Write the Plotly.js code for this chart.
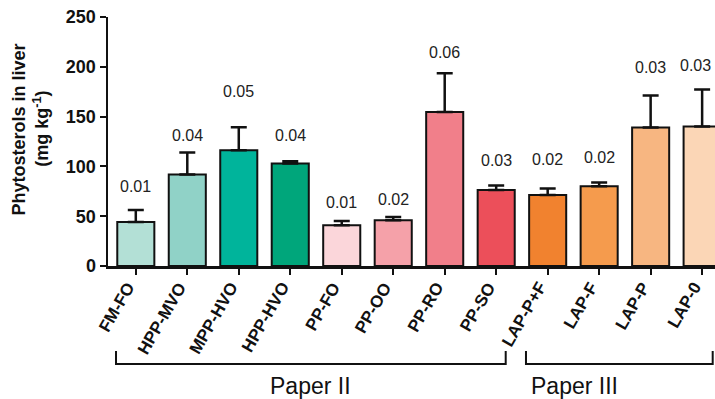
<!DOCTYPE html>
<html><head><meta charset="utf-8">
<script src="https://cdn.plot.ly/plotly-3.0.1.min.js"></script>
<style>html,body{margin:0;padding:0;background:#fff}#chart{width:715px;height:399px}</style>
</head><body><div id="chart"></div>
<script>
const categories = ["FM-FO","HPP-MVO","MPP-HVO","HPP-HVO","PP-FO","PP-OO","PP-RO","PP-SO","LAP-P+F","LAP-F","LAP-P","LAP-0"];
const means = [44.2, 91.9, 116.3, 102.9, 40.9, 45.9, 154.5, 76.4, 71.4, 80.1, 139.1, 140.1];
const sem = [12, 22, 23, 2.3, 4.3, 3.3, 39, 4.4, 6.4, 3.7, 32, 37];
const pValues = ["0.01","0.04","0.05","0.04","0.01","0.02","0.06","0.03","0.02","0.02","0.03","0.03"];
const pLabelY = [80, 131, 175, 131, 64, 67, 214, 106, 107, 109, 199, 201];
const barColors = ["#b3e0d6","#90d2c7","#00b49b","#00a67b","#fbd6da","#f5a1a9","#f17f8a","#ec4f5a","#f1822f","#f59b4d","#f7b681","#fbd6b6"];
const groupNames = ["Paper II","Paper III"];
const yTitleLines = ["Phytosterols in liver","(mg kg<sup>-1</sup>)"];

const font = "Liberation Sans, Arial, sans-serif";
const annotations = categories.map((c,i)=>({
  x: c, y: pLabelY[i], xref:'x', yref:'y', text: pValues[i], showarrow:false,
  xshift: i === categories.length-1 ? -7 : 0,
  font:{family:font, size:16, color:'#222'}
}));
categories.forEach(c=>annotations.push({
  x: c, y: -0.048, xref:'x', yref:'paper', text: c, showarrow:false, textangle:-60,
  xanchor:'right', yanchor:'top', xshift:4, borderpad:0,
  font:{family:font, size:17, color:'#111', weight:'bold'}
}));
annotations.push({x:0.3338, y:-0.483, xref:'paper', yref:'paper', yanchor:'middle', text:groupNames[0], showarrow:false, font:{family:font,size:23,color:'#111'}});
annotations.push({x:0.8428, y:-0.483, xref:'paper', yref:'paper', yanchor:'middle', text:groupNames[1], showarrow:false, font:{family:font,size:23,color:'#111'}});
annotations.push({x:-0.146, y:0.55, xref:'paper', yref:'paper', xanchor:'center', yanchor:'middle', textangle:-90, text:yTitleLines[0], showarrow:false, font:{family:font,size:18,color:'#111',weight:'bold'}});
annotations.push({x:-0.111, y:0.55, xref:'paper', yref:'paper', xanchor:'center', yanchor:'middle', textangle:-90, text:yTitleLines[1], showarrow:false, font:{family:font,size:18,color:'#111',weight:'bold'}});

const shapes = [
  {type:'path', xref:'paper', yref:'paper', path:'M0.0132,-0.341 L0.0132,-0.394 L0.6552,-0.394 L0.6552,-0.341', line:{color:'#111', width:2}},
  {type:'path', xref:'paper', yref:'paper', path:'M0.6886,-0.341 L0.6886,-0.394 L0.9962,-0.394 L0.9962,-0.341', line:{color:'#111', width:2}}
];

Plotly.newPlot('chart', [{
  type:'bar', x: categories, y: means,
  marker:{color: barColors, line:{color:'#111', width:2}},
  error_y:{type:'data', symmetric:false, array: sem, arrayminus: sem.map(()=>0), color:'#111', thickness:2.5, width:8},
  width: 0.72
}], {
  width:715, height:399,
  margin:{l:108, r:0, t:17, b:133},
  paper_bgcolor:'#fff', plot_bgcolor:'#fff',
  showlegend:false,
  xaxis:{range:[-0.54, 11.25], showline:true, linecolor:'#111', linewidth:2.5, ticks:'outside', ticklen:6, tickwidth:2, tickcolor:'#111',
    showticklabels:false, showgrid:false, zeroline:false},
  yaxis:{range:[0,250], tickvals:[0,50,100,150,200,250], showline:true, linecolor:'#111', linewidth:2.5, ticks:'outside', ticklen:6, tickwidth:2, tickcolor:'#111',
    tickfont:{family:font, size:18, color:'#111', weight:'bold'}, showgrid:false, zeroline:false},
  annotations, shapes
}, {staticPlot:true});
</script></body></html>
